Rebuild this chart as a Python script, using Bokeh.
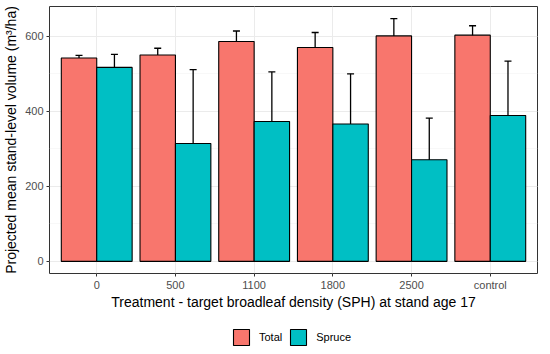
from bokeh.plotting import figure
from bokeh.layouts import column
from bokeh.models import (ColumnDataSource, FactorRange, Range1d, Whisker, TeeHead,
                          Legend, LegendItem, SingleIntervalTicker)
from bokeh.transform import dodge
from bokeh.embed import file_html
from bokeh.resources import INLINE

treatments = ["0", "500", "1100", "1800", "2500", "control"]
total_mean = [542, 550, 586, 570, 601, 603]
total_lower = [535, 533, 557, 531, 555, 580]
total_upper = [549, 568, 614, 610, 647, 628]
spruce_mean = [517, 314, 373, 366, 271, 389]
spruce_lower = [483, 117, 241, 233, 159, 245]
spruce_upper = [552, 511, 505, 500, 382, 534]
series_names = ["Total", "Spruce"]
series_colors = ["#F8766D", "#00BFC4"]

FONT = "Liberation Sans"

src = ColumnDataSource(dict(
    cat=treatments,
    t=total_mean, tl=total_lower, tu=total_upper,
    s=spruce_mean, sl=spruce_lower, su=spruce_upper,
))

ymax = max(max(total_upper), max(spruce_upper))
pad = 0.05 * ymax

x_range = FactorRange(factors=treatments, range_padding=0.2 / len(treatments),
                      range_padding_units="percent")

p = figure(width=550, height=318, x_range=x_range, y_range=Range1d(-pad, ymax + pad),
           output_backend="svg", toolbar_location=None,
           min_border_left=48, min_border_right=13, min_border_top=6, min_border_bottom=45)

bw = 0.45
r_total = p.vbar(x=dodge("cat", -bw / 2, range=p.x_range), top="t", bottom=0, width=bw,
                 source=src, fill_color=series_colors[0], line_color="black", line_width=1.1)
r_spruce = p.vbar(x=dodge("cat", bw / 2, range=p.x_range), top="s", bottom=0, width=bw,
                  source=src, fill_color=series_colors[1], line_color="black", line_width=1.1)

for off, lo, up in [(-bw / 2, "tl", "tu"), (bw / 2, "sl", "su")]:
    w = Whisker(base=dodge("cat", off, range=p.x_range), lower=lo, upper=up, source=src,
                line_color="black", line_width=1.3,
                upper_head=TeeHead(size=7, line_color="black", line_width=1.3),
                lower_head=TeeHead(size=7, line_color="black", line_width=1.3))
    p.add_layout(w)

# grids
p.xgrid.grid_line_color = "#EBEBEB"
p.xgrid.grid_line_width = 1
p.ygrid.grid_line_color = "#EBEBEB"
p.ygrid.grid_line_width = 1
p.ygrid.minor_grid_line_color = "#F4F4F4"
p.ygrid.minor_grid_line_width = 0.6
p.yaxis.ticker = SingleIntervalTicker(interval=200, num_minor_ticks=2)

p.outline_line_color = "#333333"
p.outline_line_width = 1
p.background_fill_color = "white"

for ax in (p.xaxis[0], p.yaxis[0]):
    ax.axis_line_color = None
    ax.major_tick_line_color = "#333333"
    ax.major_tick_out = 3
    ax.major_tick_in = 0
    ax.minor_tick_line_color = None
    ax.major_label_text_font = FONT
    ax.major_label_text_font_size = "11px"
    ax.major_label_text_color = "#4D4D4D"
    ax.axis_label_text_font = FONT
    ax.axis_label_text_font_size = "14px"
    ax.axis_label_text_font_style = "normal"
    ax.axis_label_text_color = "black"
    ax.major_label_standoff = 2
p.xaxis.axis_label_standoff = 0
p.yaxis.axis_label_standoff = 3

p.xaxis.axis_label = "Treatment - target broadleaf density (SPH) at stand age 17"
p.yaxis.axis_label = "Projected mean stand-level volume (m³/ha)"

# legend strip below the chart; its proxy bars use factors absent from its own
# range, so they are not drawn, only their legend swatches are
lg = figure(width=550, height=36, output_backend="svg", toolbar_location=None,
            x_range=FactorRange(factors=series_names), y_range=Range1d(-100000, -99999),
            x_axis_type=None, y_axis_type=None,
            min_border_left=0, min_border_right=0, min_border_top=0, min_border_bottom=0)
lg.outline_line_color = None
lg.xgrid.visible = False
lg.ygrid.visible = False
lr = [lg.vbar(x="cat", top=col, bottom=0, width=0.45, source=src, fill_color=c,
              line_color="black", line_width=1.1)
      for col, c in zip(["t", "s"], series_colors)]

legend = Legend(items=[LegendItem(label=n, renderers=[r]) for n, r in zip(series_names, lr)],
                orientation="horizontal", location=(182, 7))
legend.label_text_font = FONT
legend.label_text_font_size = "11px"
legend.label_text_color = "black"
legend.glyph_width = 20
legend.glyph_height = 20
legend.label_standoff = 8
legend.spacing = 6
legend.padding = 0
legend.margin = 0
legend.border_line_color = None
legend.background_fill_alpha = 0
lg.add_layout(legend, "center")

layout = column(p, lg, spacing=0)
open("out.html", "w").write(file_html(layout, INLINE))
